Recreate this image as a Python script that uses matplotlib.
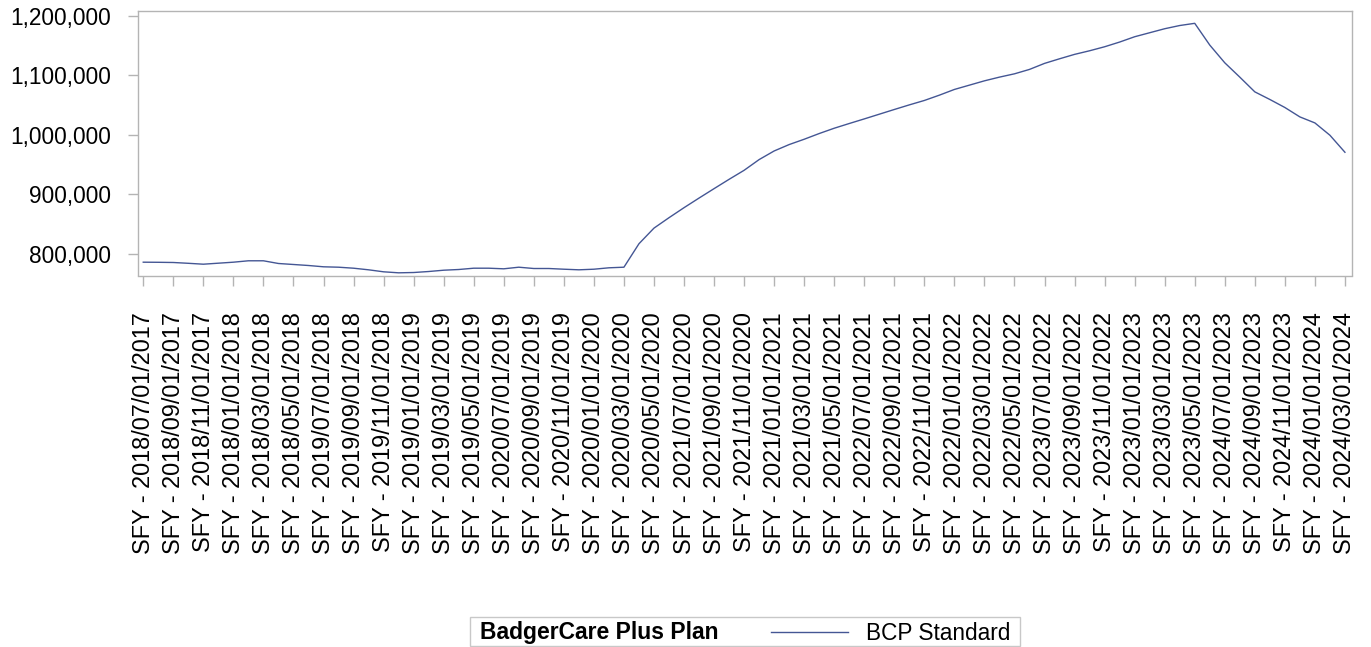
import matplotlib
matplotlib.use("Agg")
import matplotlib.pyplot as plt
from matplotlib.lines import Line2D
from matplotlib.patches import Rectangle
from matplotlib.ticker import FuncFormatter

# ---- data -------------------------------------------------------------
months = list(range(81))  # 07/2017 .. 03/2024, monthly
enrollment = [
    785860, 785690, 785350, 784000, 782490, 784180, 785860, 788220, 788220, 783670,
    781990, 780300, 778120, 777440, 775760, 773060, 769700, 768010, 768520, 770200,
    772390, 773570, 775760, 775760, 774750, 777440, 775250, 775250, 774070, 773060,
    774070, 776430, 777440, 816840, 843100, 860610, 877440, 893600, 909430, 925080,
    940240, 958250, 972730, 983500, 992420, 1002020, 1010940, 1018860, 1026600, 1034510,
    1042420, 1050170, 1057580, 1066500, 1076090, 1083330, 1090570, 1096800, 1102360, 1109760,
    1119870, 1127610, 1135020, 1141080, 1147810, 1155720, 1164640, 1171380, 1178110, 1183500,
    1187200, 1150670, 1120880, 1096800, 1072050, 1059260, 1045790, 1029960, 1019860, 999160,
    970540,
]
tick_labels = [
    "SFY - 2018/07/01/2017", "SFY - 2018/09/01/2017", "SFY - 2018/11/01/2017",
    "SFY - 2018/01/01/2018", "SFY - 2018/03/01/2018", "SFY - 2018/05/01/2018",
    "SFY - 2019/07/01/2018", "SFY - 2019/09/01/2018", "SFY - 2019/11/01/2018",
    "SFY - 2019/01/01/2019", "SFY - 2019/03/01/2019", "SFY - 2019/05/01/2019",
    "SFY - 2020/07/01/2019", "SFY - 2020/09/01/2019", "SFY - 2020/11/01/2019",
    "SFY - 2020/01/01/2020", "SFY - 2020/03/01/2020", "SFY - 2020/05/01/2020",
    "SFY - 2021/07/01/2020", "SFY - 2021/09/01/2020", "SFY - 2021/11/01/2020",
    "SFY - 2021/01/01/2021", "SFY - 2021/03/01/2021", "SFY - 2021/05/01/2021",
    "SFY - 2022/07/01/2021", "SFY - 2022/09/01/2021", "SFY - 2022/11/01/2021",
    "SFY - 2022/01/01/2022", "SFY - 2022/03/01/2022", "SFY - 2022/05/01/2022",
    "SFY - 2023/07/01/2022", "SFY - 2023/09/01/2022", "SFY - 2023/11/01/2022",
    "SFY - 2023/01/01/2023", "SFY - 2023/03/01/2023", "SFY - 2023/05/01/2023",
    "SFY - 2024/07/01/2023", "SFY - 2024/09/01/2023", "SFY - 2024/11/01/2023",
    "SFY - 2024/01/01/2024", "SFY - 2024/03/01/2024",
]
tick_positions = months[::2]
y_ticks = [800000, 900000, 1000000, 1100000, 1200000]
legend_title = "BadgerCare Plus Plan"
series_name = "BCP Standard"

# ---- style ------------------------------------------------------------
LINE_COLOR = "#445694"
AXIS_COLOR = "#b4b4b4"
FONT = ["Liberation Sans", "DejaVu Sans"]

W, H = 1371, 647
fig = plt.figure(figsize=(W / 100, H / 100), dpi=100)
ax = fig.add_axes([138.3 / W, 1 - 275.5 / H, (1351.7 - 138.3) / W, (275.5 - 11) / H])

ax.plot(months, enrollment, color=LINE_COLOR, lw=1.0)

ax.set_xlim(-0.33, 80.45)
ax.set_ylim(763500, 1207900)

ax.set_xticks(tick_positions)
ax.set_xticklabels(tick_labels, rotation=90, fontsize=16.9, family=FONT, va="top", ha="center")
ax.set_yticks(y_ticks)
ax.yaxis.set_major_formatter(FuncFormatter(lambda v, p: f"{int(v):,}"))
for lbl in ax.get_yticklabels():
    lbl.set_family(FONT)
    lbl.set_fontsize(16.3)

ax.tick_params(axis="y", length=7.2, width=1, color=AXIS_COLOR, pad=12.5, labelcolor="black")
ax.tick_params(axis="x", length=7.2, width=1, color=AXIS_COLOR, pad=19, labelcolor="black")
for s in ax.spines.values():
    s.set_color(AXIS_COLOR)
    s.set_linewidth(1)

# ---- legend box -------------------------------------------------------
def fx(px):
    return px / W

def fy(py):
    return 1 - py / H

fig.add_artist(Rectangle((fx(470), fy(646)), fx(1020) - fx(470), fy(617) - fy(646),
                         transform=fig.transFigure, fill=False, edgecolor="#c8c8c8", lw=1))
fig.text(fx(480), fy(633), legend_title, fontsize=16.5, fontweight="bold", family=FONT,
         va="center", ha="left")
fig.add_artist(Line2D([fx(771), fx(848)], [fy(632), fy(632)], transform=fig.transFigure,
                      color=LINE_COLOR, lw=1.0))
fig.text(fx(866), fy(633), series_name, fontsize=16.3, family=FONT, va="center", ha="left")

fig.savefig("out.png", dpi=100)
